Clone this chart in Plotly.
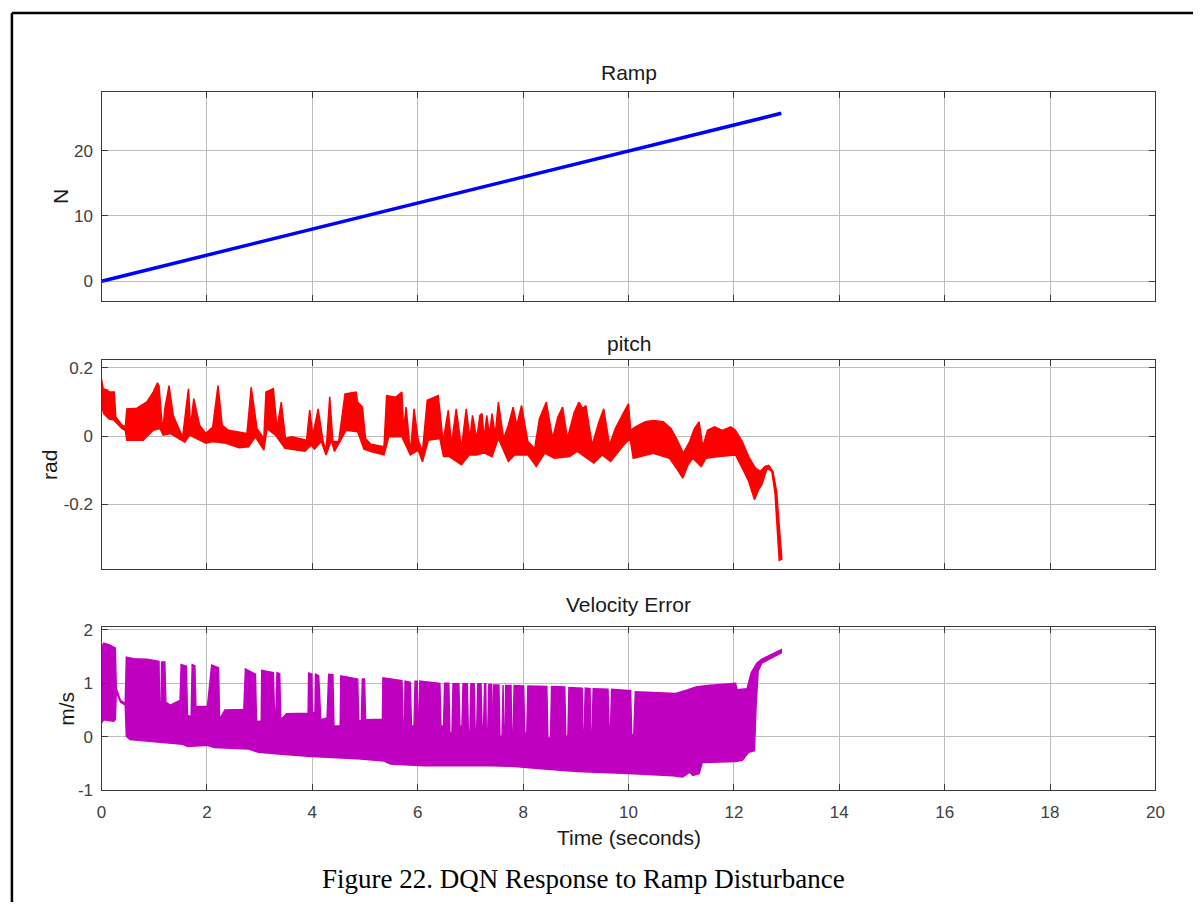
import plotly.graph_objects as go

# ---------------- data ----------------
ramp_t = [0.0, 12.9]
ramp_force = [0.0, 25.7]

pitch_hi_t = [0.00, 0.03, 0.12, 0.14, 0.24, 0.27, 0.39, 0.45, 0.48, 0.67, 0.86, 0.98, 1.06, 1.09, 1.16,
              1.20, 1.28, 1.36, 1.48, 1.54, 1.61, 1.65, 1.69, 1.75, 1.86, 1.98, 2.11, 2.21, 2.29, 2.41,
              2.76, 2.84, 2.95, 3.08, 3.12, 3.26, 3.33, 3.41, 3.49, 3.61, 3.89, 3.95, 4.01, 4.11, 4.20,
              4.26, 4.33, 4.39, 4.50, 4.62, 4.83, 4.86, 4.95, 5.01, 5.11, 5.36, 5.41, 5.58, 5.70, 5.73,
              5.78, 5.86, 5.93, 6.01, 6.09, 6.18, 6.39, 6.48, 6.58, 6.64, 6.73, 6.83, 6.92, 6.99, 7.04,
              7.12, 7.18, 7.22, 7.26, 7.31, 7.36, 7.41, 7.47, 7.53, 7.63, 7.72, 7.81, 7.88, 7.97, 8.09,
              8.22, 8.31, 8.44, 8.56, 8.66, 8.75, 8.84, 8.97, 9.06, 9.13, 9.19, 9.31, 9.44, 9.53, 9.64,
              9.75, 9.91, 10.00, 10.04, 10.13, 10.32, 10.47, 10.66, 10.81, 10.94, 11.04, 11.16, 11.25,
              11.34, 11.41, 11.50, 11.63, 11.78, 11.94, 12.03, 12.16, 12.28, 12.41, 12.50, 12.59, 12.66,
              12.74, 12.81, 12.91]
pitch_hi = [0.166, 0.139, 0.134, 0.129, 0.129, 0.056, 0.032, 0.027, 0.080, 0.082, 0.100, 0.129, 0.156,
            0.148, 0.013, 0.080, 0.148, 0.061, 0.017, -0.002, 0.090, 0.139, 0.027, 0.110, 0.032, 0.008,
            0.027, 0.148, 0.032, 0.017, 0.008, 0.144, 0.022, -0.007, 0.129, 0.139, 0.022, 0.100, -0.007,
            -0.002, -0.012, 0.076, 0.003, 0.080, -0.012, -0.045, 0.115, -0.016, -0.016, 0.124, 0.129,
            0.100, 0.085, -0.007, -0.024, -0.031, 0.119, 0.114, 0.129, 0.017, 0.085, -0.050, 0.080,
            -0.012, -0.046, 0.105, 0.119, -0.016, 0.076, -0.026, 0.080, -0.036, 0.080, -0.007, 0.061,
            -0.007, 0.061, 0.066, -0.007, 0.061, 0.003, 0.066, 0.003, 0.100, -0.007, 0.032, 0.085,
            0.032, 0.090, -0.016, -0.036, 0.051, 0.100, -0.007, 0.056, 0.085, -0.007, 0.070, 0.100,
            0.080, 0.090, -0.026, 0.042, 0.080, -0.026, 0.022, 0.070, 0.095, 0.017, 0.027, 0.042,
            0.046, 0.042, 0.022, -0.016, -0.050, -0.016, 0.022, 0.042, -0.031, 0.017, 0.027, 0.017,
            0.027, 0.017, -0.016, -0.060, -0.094, -0.103, -0.089, -0.086, -0.103, -0.161, -0.360]

pitch_lo_t = [0.00, 0.04, 0.14, 0.23, 0.29, 0.39, 0.45, 0.48, 0.79, 0.98, 1.11, 1.17, 1.30, 1.45, 1.58,
              1.67, 1.73, 1.98, 2.11, 2.36, 2.61, 2.79, 2.92, 3.08, 3.14, 3.30, 3.48, 3.86, 3.98, 4.04,
              4.17, 4.26, 4.36, 4.42, 4.64, 4.86, 4.98, 5.11, 5.36, 5.45, 5.70, 5.86, 6.01, 6.09, 6.20,
              6.42, 6.49, 6.60, 6.83, 6.98, 7.11, 7.23, 7.28, 7.41, 7.53, 7.72, 7.84, 8.09, 8.25, 8.41,
              8.59, 8.88, 9.03, 9.34, 9.50, 9.66, 9.91, 10.03, 10.09, 10.47, 10.78, 10.91, 11.03, 11.13,
              11.22, 11.38, 11.47, 11.72, 12.03, 12.16, 12.28, 12.39, 12.47, 12.53, 12.63, 12.72, 12.78,
              12.86]
pitch_lo = [0.090, 0.066, 0.051, 0.047, 0.037, 0.022, 0.017, -0.012, -0.012, 0.017, 0.022, 0.003, 0.008,
            -0.007, -0.018, 0.003, -0.002, -0.021, -0.016, -0.021, -0.034, -0.031, -0.002, -0.041,
            0.022, 0.003, -0.036, -0.044, -0.026, -0.038, -0.016, -0.055, -0.012, -0.045, 0.017, 0.013,
            -0.038, -0.045, -0.055, -0.002, -0.002, -0.055, -0.041, -0.075, -0.012, -0.007, -0.060,
            -0.060, -0.084, -0.055, -0.055, -0.050, -0.050, -0.060, -0.007, -0.074, -0.055, -0.055,
            -0.089, -0.050, -0.065, -0.060, -0.045, -0.079, -0.055, -0.074, -0.026, -0.007, -0.065,
            -0.050, -0.065, -0.094, -0.123, -0.084, -0.065, -0.089, -0.065, -0.060, -0.055, -0.094,
            -0.132, -0.186, -0.156, -0.142, -0.094, -0.103, -0.166, -0.364]

vel_hi_t = [0.00, 0.04, 0.14, 0.23, 0.26, 0.28, 0.33, 0.36, 0.45, 0.47, 0.61, 0.86, 1.09, 1.10, 1.13,
            1.14, 1.20, 1.22, 1.31, 1.36, 1.49, 1.51, 1.61, 1.63, 1.70, 1.72, 1.77, 1.79, 2.01, 2.09,
            2.22, 2.24, 2.34, 2.70, 2.73, 2.92, 2.94, 3.03, 3.04, 3.26, 3.28, 3.31, 3.33, 3.38, 3.40,
            3.51, 3.92, 3.93, 3.99, 4.00, 4.05, 4.06, 4.12, 4.16, 4.28, 4.31, 4.39, 4.41, 4.53, 4.54,
            4.86, 4.88, 4.93, 4.95, 4.99, 5.01, 5.33, 5.34, 5.70, 5.72, 5.75, 5.76, 5.86, 5.88, 5.93,
            5.95, 5.99, 6.01, 6.03, 6.04, 6.42, 6.44, 6.49, 6.51, 6.59, 6.61, 6.65, 6.67, 6.78, 6.80,
            6.84, 6.86, 6.94, 6.96, 6.99, 7.01, 7.07, 7.09, 7.12, 7.14, 7.20, 7.22, 7.25, 7.27, 7.29,
            7.30, 7.33, 7.35, 7.40, 7.41, 7.43, 7.44, 7.54, 7.56, 7.60, 7.62, 7.63, 7.66, 7.67, 7.77,
            7.78, 7.81, 7.83, 8.01, 8.03, 8.07, 8.09, 8.45, 8.47, 8.52, 8.54, 8.79, 8.81, 8.85, 8.87,
            9.12, 9.13, 9.16, 9.18, 9.27, 9.28, 9.31, 9.33, 9.61, 9.63, 9.66, 9.68, 10.04, 10.06, 10.10,
            10.13, 10.90, 11.10, 11.28, 11.50, 12.03, 12.06, 12.25, 12.33, 12.44, 12.53, 12.90]
vel_hi = [1.66, 1.75, 1.72, 1.67, 1.66, 0.90, 0.74, 0.68, 0.62, 1.49, 1.46, 1.45, 1.41, 0.65, 0.65,
          1.40, 1.40, 0.65, 0.59, 0.62, 0.68, 1.35, 1.32, 0.40, 0.38, 1.35, 1.33, 0.56, 0.57, 1.34,
          1.29, 0.32, 0.50, 0.51, 1.27, 1.17, 0.29, 0.29, 1.24, 1.20, 0.50, 0.50, 1.20, 1.18, 0.32,
          0.43, 0.44, 1.19, 1.17, 0.45, 0.45, 1.17, 1.14, 0.32, 0.35, 1.17, 1.16, 0.20, 0.20, 1.14,
          1.08, 0.30, 0.30, 1.08, 1.08, 0.32, 0.33, 1.10, 1.05, 0.29, 0.29, 1.04, 1.02, 0.20, 0.20,
          1.04, 1.04, 0.26, 0.26, 1.04, 1.00, 0.20, 0.20, 1.00, 1.00, 0.07, 0.07, 0.99, 0.99, 0.20,
          0.20, 0.99, 0.99, 0.10, 0.10, 0.99, 0.99, 0.15, 0.15, 0.99, 0.99, 0.20, 0.20, 0.99, 0.99,
          0.15, 0.15, 0.98, 0.98, 0.32, 0.32, 0.97, 0.97, 0.01, 0.01, 0.97, 0.20, 0.20, 0.96, 0.96,
          0.13, 0.13, 0.96, 0.95, 0.07, 0.07, 0.95, 0.94, -0.02, -0.02, 0.94, 0.93, 0.01, 0.01, 0.92,
          0.91, 0.13, 0.13, 0.91, 0.90, 0.13, 0.13, 0.90, 0.89, 0.20, 0.20, 0.89, 0.86, 0.04, 0.04,
          0.84, 0.81, 0.87, 0.93, 0.96, 1.00, 0.88, 0.90, 1.20, 1.38, 1.45, 1.63]

vel_lo_t = [0.00, 0.04, 0.23, 0.26, 0.28, 0.36, 0.45, 0.47, 0.54, 1.11, 1.54, 1.64, 2.01, 2.14, 2.79,
            2.98, 3.36, 3.98, 4.23, 4.86, 5.36, 5.48, 6.11, 7.36, 7.78, 8.41, 9.03, 10.10, 10.84, 11.03,
            11.16, 11.22, 11.34, 11.40, 12.03, 12.16, 12.28, 12.39, 12.42, 12.46, 12.53, 12.90]
vel_lo = [0.26, 0.32, 0.29, 0.32, 0.84, 0.65, 0.59, 0.01, -0.05, -0.10, -0.14, -0.18, -0.16, -0.20,
          -0.23, -0.29, -0.32, -0.37, -0.38, -0.41, -0.45, -0.51, -0.54, -0.54, -0.55, -0.60, -0.65,
          -0.69, -0.73, -0.75, -0.66, -0.72, -0.69, -0.48, -0.46, -0.44, -0.29, -0.26, 0.56, 1.23,
          1.38, 1.57]

x_ticks = [0, 2, 4, 6, 8, 10, 12, 14, 16, 18, 20]
ramp_ticks = [0, 10, 20]
pitch_ticks = [-0.2, 0, 0.2]
pitch_tick_text = ["-0.2", "0", "0.2"]
vel_ticks = [-1, 0, 1, 2]

# ---------------- layout geometry ----------------
W, H = 1202, 912
X0, X1 = 97.7, 1164.0
AX = [(87.3, 300.7), (360.0, 573.3), (631.7, 798.3)]


def pyp(p):
    return 1 - p / H


def pxp(p):
    return p / W


SANS = "Liberation Sans, Arial, Helvetica, sans-serif"
TICKC = "#3a3a3a"
GRIDC = "#bdbdbd"

fig = go.Figure()

fig.add_trace(go.Scatter(x=ramp_t, y=ramp_force, mode="lines",
                         line=dict(color="#0000ff", width=3.5),
                         xaxis="x", yaxis="y", showlegend=False, hoverinfo="skip"))


def band(t_hi, y_hi, t_lo, y_lo, color, xa, ya):
    xs = list(t_hi) + list(reversed(t_lo))
    ys = list(y_hi) + list(reversed(y_lo))
    fig.add_trace(go.Scatter(x=xs, y=ys, mode="lines", fill="toself",
                             fillcolor=color, line=dict(color=color, width=1.5),
                             xaxis=xa, yaxis=ya, showlegend=False, hoverinfo="skip"))


band(pitch_hi_t, pitch_hi, pitch_lo_t, pitch_lo, "#ff0000", "x2", "y2")
band(vel_hi_t, vel_hi, vel_lo_t, vel_lo, "#c000c0", "x3", "y3")

common = dict(showline=True, linecolor=TICKC, linewidth=1.3, mirror="ticks",
              ticks="inside", ticklen=6, tickcolor=TICKC, tickwidth=1.2,
              showgrid=True, gridcolor=GRIDC, gridwidth=1, zeroline=False,
              tickfont=dict(family=SANS, size=17, color="#404040"))

layout = dict(width=W, height=H, margin=dict(l=0, r=0, t=0, b=0),
              paper_bgcolor="white", plot_bgcolor="white", showlegend=False)

yranges = [[-3.1, 29.0], [-0.39, 0.224], [-1.0, 2.06]]
ytickv = [ramp_ticks, pitch_ticks, vel_ticks]
ytickt = [[str(v) for v in ramp_ticks], pitch_tick_text, [str(v) for v in vel_ticks]]

for i in range(3):
    sfx = "" if i == 0 else str(i + 1)
    top, bot = AX[i]
    layout["xaxis" + sfx] = dict(common, domain=[pxp(X0), pxp(X1)], range=[0, 20],
                                 tickvals=x_ticks, ticktext=[str(v) for v in x_ticks],
                                 showticklabels=(i == 2), anchor="y" + sfx,
                                 ticklabelstandoff=6)
    layout["yaxis" + sfx] = dict(common, domain=[pyp(bot), pyp(top)], range=yranges[i],
                                 tickvals=ytickv[i], ticktext=ytickt[i], anchor="x" + sfx,
                                 ticklabelstandoff=4)

fig.update_layout(**layout)

ann = []
titles = [("Ramp", 67.5), ("pitch", 343.5), ("Velocity Error", 609.5)]
for txt, yc in titles:
    ann.append(dict(text=txt, x=pxp((X0 + X1) / 2), y=pyp(yc), xref="paper", yref="paper",
                    xanchor="center", yanchor="middle", showarrow=False,
                    font=dict(family=SANS, size=21, color="#1a1a1a")))

ylabels = [("N", 56, (AX[0][0] + AX[0][1]) / 2), ("rad", 45, (AX[1][0] + AX[1][1]) / 2),
           ("m/s", 62, (AX[2][0] + AX[2][1]) / 2)]
for txt, xc, yc in ylabels:
    ann.append(dict(text=txt, x=pxp(xc), y=pyp(yc), xref="paper", yref="paper",
                    xanchor="center", yanchor="middle", textangle=-90, showarrow=False,
                    font=dict(family=SANS, size=21, color="#1a1a1a")))

ann.append(dict(text="Time (seconds)", x=pxp((X0 + X1) / 2), y=pyp(846), xref="paper", yref="paper",
                xanchor="center", yanchor="middle", showarrow=False,
                font=dict(family=SANS, size=21, color="#1a1a1a")))

ann.append(dict(text="Figure 22. DQN Response to Ramp Disturbance", x=pxp(585), y=pyp(889),
                xref="paper", yref="paper", xanchor="center", yanchor="middle", showarrow=False,
                font=dict(family="Liberation Serif, Times New Roman, serif", size=27, color="black")))

fig.update_layout(annotations=ann)

fig.update_layout(shapes=[
    dict(type="line", xref="paper", yref="paper", x0=pxp(7), x1=1, y0=pyp(7), y1=pyp(7),
         line=dict(color="black", width=2.5)),
    dict(type="line", xref="paper", yref="paper", x0=pxp(7), x1=pxp(7), y0=pyp(7), y1=0,
         line=dict(color="black", width=2.5)),
])

fig.write_html("out.html")
